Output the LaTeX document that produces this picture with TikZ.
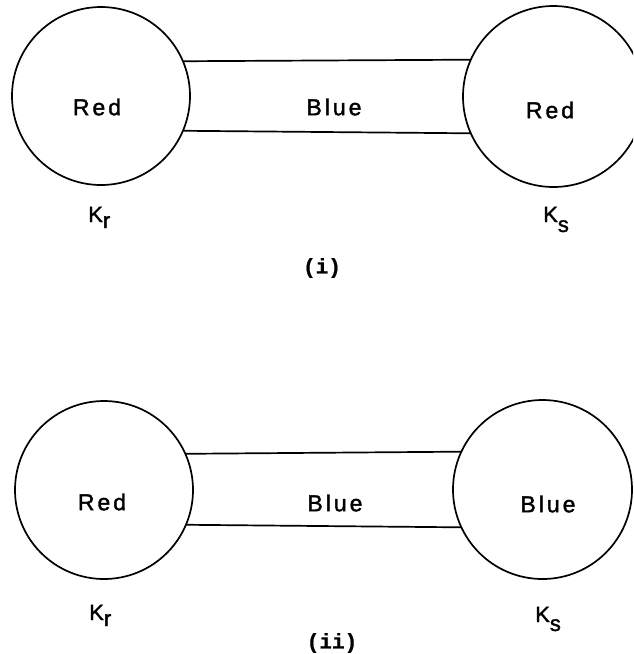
\documentclass[tikz,border=0pt]{standalone}
\usepackage{fontspec}
\setmainfont{Liberation Sans}
\newfontfamily\lblfont[LetterSpace=13,FakeBold=1.6]{Liberation Sans}
\newfontfamily\capfont[FakeBold=0.8]{Liberation Mono}
\begin{document}
\begin{tikzpicture}[x=1pt,y=-1pt,
  ring/.style={circle,draw,line width=1.7pt,inner sep=0pt,outer sep=0pt},
  bar/.style={line width=1.7pt},
  lbl/.style={inner sep=0pt,font=\fontsize{23}{23}\selectfont\lblfont},
  klbl/.style={inner sep=0pt,anchor=base west,font=\fontsize{22}{22}\selectfont\lblfont},
  captionlbl/.style={inner sep=0pt,font=\fontsize{21}{21}\selectfont\capfont\bfseries}]
\fill[white] (0,0) rectangle (633,654);
\useasboundingbox (0,0) rectangle (633,654);
\clip (0,0) rectangle (633,654);
% (i)
\node[ring,minimum size=178pt] (L1) at (101,96) {};
\node[ring,minimum size=181pt] (R1) at (553.5,96.5) {};
\draw[bar] (L1.23.86) -- (R1.156.2);
\draw[bar] (L1.-23.86) -- (R1.-156.9);
\node[lbl] (t1a) at (97,107) {Red};
\node[lbl] (t1b) at (334,107) {Blue};
\node[lbl] (t1c) at (550,110) {Red};
\node[klbl] (k1r) at (88,222) {K\raisebox{-6pt}{r}};
\node[klbl] (k1s) at (543,222) {K\raisebox{-10pt}{s}};
\node[captionlbl] (c1) at (322,268) {(i)};
% (ii)
\node[ring,minimum size=178pt] (L2) at (104,490) {};
\node[ring,minimum size=179pt] (R2) at (542.5,489.5) {};
\draw[bar] (L2.24.57) -- (R2.155.93);
\draw[bar] (L2.-23.86) -- (R2.-155.93);
\node[lbl] (t2a) at (102,502) {Red};
\node[lbl] (t2b) at (335,503) {Blue};
\node[lbl] (t2c) at (548,504) {Blue};
\node[klbl] (k2r) at (89,620) {K\raisebox{-6pt}{r}};
\node[klbl] (k2s) at (535,622) {K\raisebox{-9pt}{s}};
\node[captionlbl] (c2) at (332,643) {(ii)};
\end{tikzpicture}
\end{document}
